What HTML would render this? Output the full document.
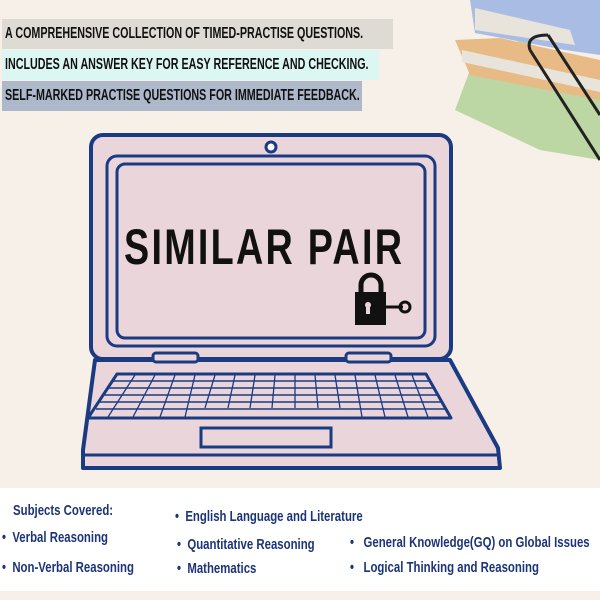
<!DOCTYPE html>
<html><head><style>
body{margin:0;width:600px;height:600px;background:#f7f0e8;position:relative;overflow:hidden;font-family:"Liberation Sans",sans-serif}
.bar{position:absolute;left:2px;height:30px;font-size:16px;line-height:30px;padding-left:3px;color:#111;white-space:nowrap;box-sizing:border-box}
.bar span{display:inline-block;transform:scaleX(0.67);transform-origin:left;font-weight:bold}
.w{position:absolute;left:0;top:488px;width:600px;height:103px;background:#fff}
.t{position:absolute;color:#1c3578;font-weight:bold;font-size:15px;white-space:nowrap;transform:scaleX(0.76);transform-origin:left}
</style></head><body>
<svg style="position:absolute;left:0;top:0" width="600" height="600">
 <polygon points="470,70 520,40 600,70 600,160 540,150 455,110" fill="#bcd6a4"/>
 <polygon points="455,40 500,38 600,60 600,100 470,75" fill="#e8ba86"/>
 <polygon points="462,50 600,80 600,92 462,62" fill="#e8e4dc"/>
 <polygon points="470,0 600,0 600,55 565,50 475,33" fill="#a9bde4"/>
 <polygon points="475,8 570,30 575,45 475,30" fill="#e8e4dc"/>
 <g stroke="#222" stroke-width="3" fill="none">
  <line x1="530" y1="50" x2="600" y2="160"/><line x1="548" y1="35" x2="600" y2="115"/>
  <path d="M530,50 Q525,35 548,35"/>
 </g>
 <path d="M95,360 L450,360 L498,448 L500,468 L83,468 L83,450 Z" fill="#ead6da" stroke="#1a3a82" stroke-width="4" stroke-linejoin="round"/>
 <line x1="83" y1="455" x2="500" y2="455" stroke="#1a3a82" stroke-width="3"/>
 <path d="M117,374 L426,374 L451,418 L88,418 Z" fill="#ead6da" stroke="#1a3a82" stroke-width="3" stroke-linejoin="round"/>
 <g stroke="#1a3a82" stroke-width="1.5">
  <line x1="112" y1="381" x2="430" y2="381"/><line x1="108" y1="388" x2="434" y2="388"/>
  <line x1="104" y1="395" x2="438" y2="395"/><line x1="100" y1="402" x2="442" y2="402"/>
  <line x1="96" y1="409" x2="446" y2="409"/>
 </g>
 <g stroke="#1a3a82" stroke-width="1.3">
  <line x1="135" y1="375" x2="108" y2="417"/><line x1="155" y1="375" x2="133" y2="417"/>
  <line x1="175" y1="375" x2="160" y2="417"/><line x1="195" y1="375" x2="185" y2="417"/>
  <line x1="215" y1="375" x2="205" y2="408"/><line x1="235" y1="375" x2="228" y2="408"/>
  <line x1="255" y1="375" x2="250" y2="408"/><line x1="275" y1="375" x2="272" y2="408"/>
  <line x1="295" y1="375" x2="295" y2="408"/><line x1="315" y1="375" x2="318" y2="408"/>
  <line x1="335" y1="375" x2="340" y2="408"/><line x1="355" y1="375" x2="362" y2="417"/>
  <line x1="375" y1="375" x2="385" y2="417"/><line x1="395" y1="375" x2="408" y2="417"/>
  <line x1="412" y1="375" x2="428" y2="417"/>
 </g>
 <rect x="201" y="428" width="130" height="19" fill="#ead6da" stroke="#1a3a82" stroke-width="3"/>
 <rect x="91" y="135" width="360" height="224" rx="12" fill="#ead6da" stroke="#1a3a82" stroke-width="4"/>
 <rect x="107" y="156" width="328" height="190" rx="10" fill="none" stroke="#1a3a82" stroke-width="3"/>
 <rect x="117" y="164" width="308" height="174" rx="8" fill="#ead6da" stroke="#1a3a82" stroke-width="3"/>
 <circle cx="271" cy="147" r="5" fill="#fff" stroke="#1a3a82" stroke-width="3"/>
 <rect x="153" y="353" width="45" height="9" rx="3" fill="#ead6da" stroke="#1a3a82" stroke-width="3"/>
 <rect x="346" y="353" width="45" height="9" rx="3" fill="#ead6da" stroke="#1a3a82" stroke-width="3"/>
 <path d="M361,293 v-8 a10,10 0 0 1 20,0 v8" fill="none" stroke="#111" stroke-width="5"/>
 <rect x="355" y="292" width="31" height="33" fill="#111"/>
 <circle cx="368" cy="305" r="3" fill="#ead6da"/><rect x="366" y="306" width="4" height="8" fill="#ead6da"/>
 <line x1="380" y1="307" x2="403" y2="307" stroke="#111" stroke-width="3"/>
 <circle cx="405" cy="307" r="5" fill="none" stroke="#111" stroke-width="3"/>
</svg>
<div style="position:absolute;left:124px;top:218px;font-size:50px;font-weight:bold;letter-spacing:3px;color:#111;white-space:nowrap;transform:scaleX(0.755);transform-origin:left">SIMILAR PAIR</div>
<div class="bar" style="top:19px;width:391px;background:#dedad4"><span>A COMPREHENSIVE COLLECTION OF TIMED-PRACTISE QUESTIONS.</span></div>
<div class="bar" style="top:50px;width:377px;background:#dcf7f1"><span>INCLUDES AN ANSWER KEY FOR EASY REFERENCE AND CHECKING.</span></div>
<div class="bar" style="top:81px;width:360px;background:#aeb8cb"><span>SELF-MARKED PRACTISE QUESTIONS FOR IMMEDIATE FEEDBACK.</span></div>
<div class="w"></div>
<div class="t" style="left:13px;top:502px">Subjects Covered:</div>
<div class="t" style="left:2px;top:529px">•&nbsp; Verbal Reasoning</div>
<div class="t" style="left:2px;top:559px">•&nbsp; Non-Verbal Reasoning</div>
<div class="t" style="left:175px;top:508px">•&nbsp; English Language and Literature</div>
<div class="t" style="left:177px;top:536px">•&nbsp; Quantitative Reasoning</div>
<div class="t" style="left:177px;top:560px">•&nbsp; Mathematics</div>
<div class="t" style="left:350px;top:534px">•&nbsp;&nbsp; General Knowledge(GQ) on Global Issues</div>
<div class="t" style="left:350px;top:559px">•&nbsp;&nbsp; Logical Thinking and Reasoning</div>
</body></html>
